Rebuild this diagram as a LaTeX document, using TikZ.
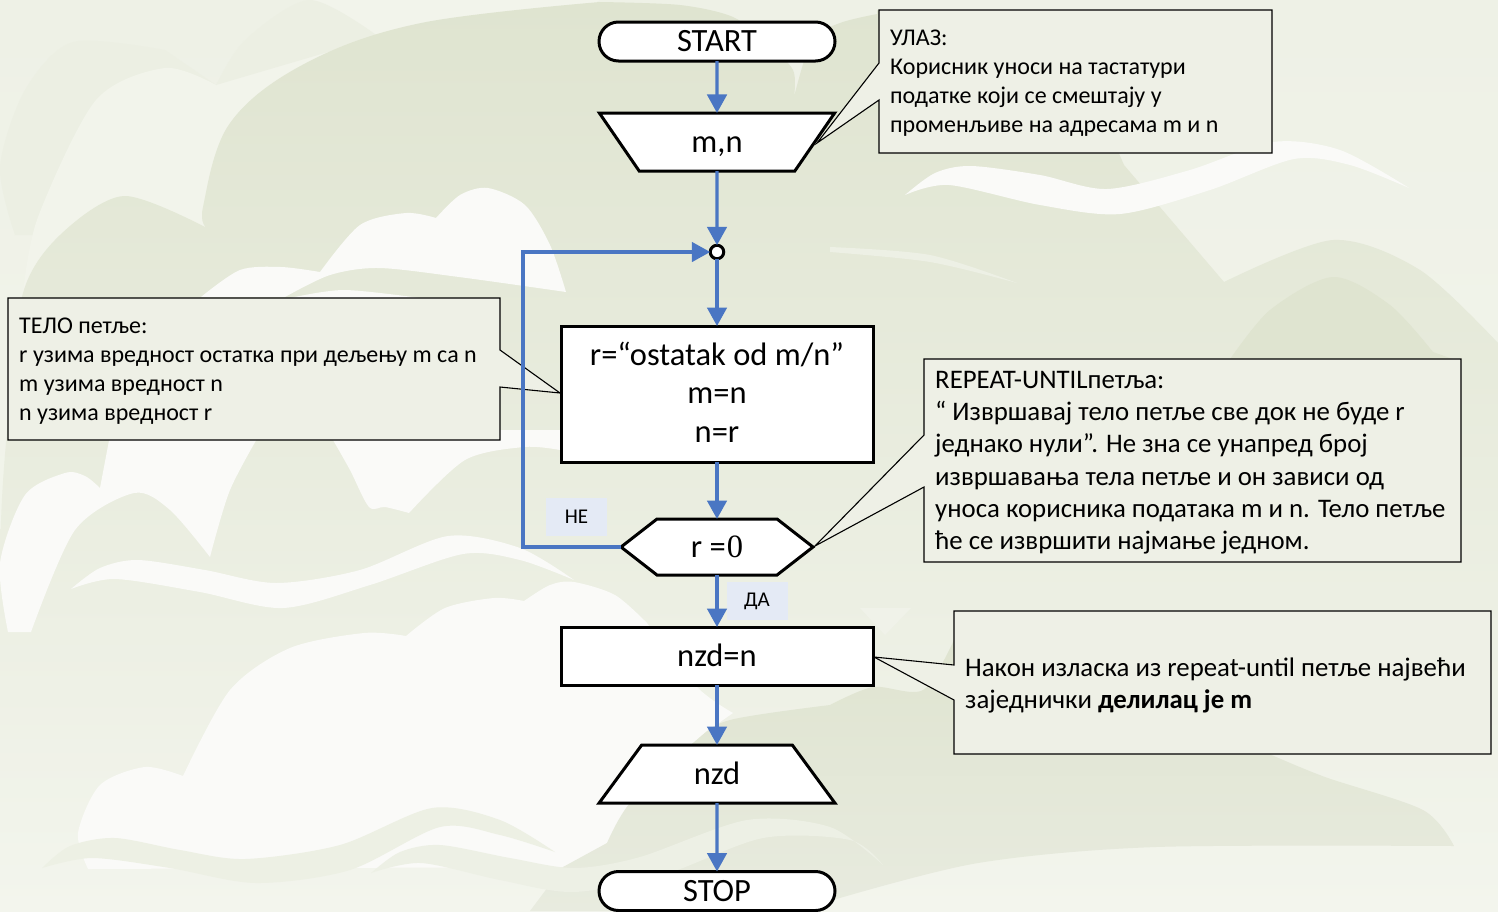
\documentclass[tikz,border=0pt]{standalone}
\usepackage{fontspec}
\setmainfont{Carlito}
\newfontfamily\timesf{Liberation Serif}
\usetikzlibrary{arrows.meta,shapes.geometric,shapes.symbols,shapes.misc}
\definecolor{bgwhite}{HTML}{FAFAF8}
\definecolor{flowblue}{HTML}{4A76C3}
\definecolor{notefill}{HTML}{EEF0E6}
\definecolor{tagfill}{HTML}{E4EAF5}
\definecolor{EDF0E5}{HTML}{EEF1E6}
\definecolor{F3F5ED}{HTML}{F4F6EE}
\definecolor{EBEEE2}{HTML}{ECEFE3}
\definecolor{F1F3EA}{HTML}{F2F4EB}
\definecolor{DDE2CE}{HTML}{DFE4D0}
\definecolor{E9ECDF}{HTML}{EBEEE2}
\definecolor{F2F4EC}{HTML}{F3F5ED}
\definecolor{DEE3CF}{HTML}{DFE4D0}
\definecolor{EAEDE1}{HTML}{EDF0E5}
\definecolor{E7EADD}{HTML}{E8EBDF}
\definecolor{EEF0E7}{HTML}{F0F2E9}
\definecolor{ECEFE3}{HTML}{EDF0E4}
\definecolor{ECEFE4}{HTML}{EDF0E5}
\tikzset{
  x=1pt,y=-1pt,
  shapebox/.style={draw=black,fill=white,line width=3pt,inner sep=0pt,outer sep=0pt,font=\fontsize{32.5}{38.5}\selectfont,align=center},
  oneline/.style={text height=20pt,text depth=0pt},
  termbox/.style={shapebox,oneline,rounded rectangle,minimum width=236,minimum height=39},
  procbox/.style={shapebox,rectangle,minimum width=312},
  iobox/.style={shapebox,oneline,trapezium,trapezium stretches=true,trapezium left angle=56.8,trapezium right angle=56.8,minimum width=236,minimum height=58},
  decbox/.style={shapebox,oneline,signal,signal to=east and west,signal pointer angle=75.8,minimum width=192,minimum height=56},
  joint/.style={circle,draw=black,fill=white,line width=3pt,minimum size=13.5,inner sep=0pt,outer sep=0pt},
  flow/.style={draw=flowblue,line width=3.3pt,-{Triangle[length=18.5pt,width=19.5pt]}},
  notebox/.style={draw=black,fill=notefill,line width=1.1pt,line join=miter},
  notetext/.style={anchor=north west,inner sep=0pt,align=left,font=\fontsize{24}{29}\selectfont},
  notetextb/.style={anchor=north west,inner sep=0pt,align=left,font=\fontsize{26.8}{32.2}\selectfont},
  tag/.style={fill=tagfill,inner sep=0pt,minimum width=61,minimum height=38,font=\fontsize{21}{25}\selectfont},
  cloud/.style={fill=bgwhite},
}
\begin{document}
\begin{tikzpicture}
\useasboundingbox (0,0) rectangle (1498,911);
% background
\shade[top color=EDF0E5,bottom color=F3F5ED] (0,0) rectangle (1498,911);
\fill[EBEEE2] plot[smooth] coordinates {(15,235) (0,167) (25,90) (73,42) (165,50)} -- (216,85) -- (33,235) -- cycle;
\fill[F1F3EA] plot[smooth] coordinates {(23,293) (38,217) (96,100) (165,68) (216,85)} -- plot[smooth] coordinates {(216,85) (245,40) (310,0)} -- (600,0) -- (207,228) -- cycle;
\fill[EBEEE2] plot[smooth] coordinates {(216,85) (245,40) (310,0) (379,37)} -- cycle;
\shade[top color=DDE2CE,middle color=E9ECDF,bottom color=F2F4EC]
  plot[smooth,tension=.6] coordinates {(600,2) (421,23) (306,63) (230,123) (203,207) (207,228)}
  -- plot[smooth] coordinates {(207,228) (124,196) (60,235) (23,293) (8,420) (0,560) (0,911)}
  -- (1498,911) -- (1498,343)
  -- plot[smooth] coordinates {(1498,343) (1420,270) (1333,240) (1224,282)}
  -- (1124,165) -- (1100,110) -- (877,10)
  -- plot[smooth] coordinates {(877,14) (840,23) (812,40) (794,97)}
  -- plot[smooth] coordinates {(794,97) (793,70) (767,43) (733,17) (680,5) (600,2)} -- cycle;
\fill[DEE3CF] plot[smooth] coordinates {(1228,362) (1270,310) (1333,277) (1390,305) (1433,352)} -- (1461,362) -- cycle;
\fill[EAEDE1] plot[smooth] coordinates {(830,247) (930,255) (1017,283)} -- plot[smooth] coordinates {(1017,283) (930,262) (830,252)} -- cycle;
% white clouds
\fill[cloud] plot[smooth] coordinates {(201,297) (240,270) (281,267) (320,272)}
  -- plot[smooth] coordinates {(320,272) (360,225) (406,213) (436,218)}
  -- plot[smooth] coordinates {(436,218) (460,195) (488,188) (525,205) (550,245) (566,292)}
  -- plot[smooth] coordinates {(566,292) (459,277) (379,268) (330,275) (285,297)} -- cycle;
\fill[cloud] plot[smooth] coordinates {(290,298) (344,290) (420,298)} -- cycle;
\fill[cloud] (111,430) -- plot[smooth] coordinates {(100,488) (85,476) (65,473) (25,495) (0,563) (8,632)}
  -- (31,632) -- plot[smooth] coordinates {(31,632) (75,530) (134,493) (170,510) (210,557)}
  -- plot[smooth] coordinates {(210,557) (230,490) (262,430)} -- cycle;
\fill[cloud] (333,430) -- plot[smooth] coordinates {(333,440) (350,470) (369,507) (385,507) (409,513)}
  -- plot[smooth] coordinates {(409,513) (465,460) (524,447) (560,450)} -- (560,430) -- cycle;
\fill[cloud] plot[smooth] coordinates {(71,589) (100,568) (138,560) (205,570) (276,583) (360,570) (448,536) (520,548) (574,580)}
  -- plot[smooth] coordinates {(574,580) (520,560) (463,554) (370,585) (283,608) (200,592) (115,579) (71,589)} -- cycle;
\fill[cloud] plot[smooth] coordinates {(88,869) (78,833) (100,785) (145,767) (183,776)}
  -- plot[smooth] coordinates {(183,776) (230,690) (290,648) (364,633) (406,636)}
  -- plot[smooth] coordinates {(406,636) (445,608) (494,598) (524,601)}
  -- plot[smooth] coordinates {(524,601) (550,585) (574,582) (615,595) (647,623)}
  -- plot[smooth] coordinates {(647,623) (697,687) (733,713)}
  -- plot[smooth] coordinates {(733,713) (693,743) (630,803) (607,843) (563,867)} -- cycle;
% dark lower patch
\shade[top color=DEE3CF,bottom color=E7EADD] (530,911) -- (563,867) -- (607,843) -- plot[smooth] coordinates {(607,843) (630,803) (693,743) (730,720) (830,705)}
  -- plot[smooth] coordinates {(830,705) (873,687) (923,690) (954,640)} -- (1267,740)
  -- plot[smooth] coordinates {(1267,753) (1325,777) (1423,810) (1454,846)}
  -- plot[smooth] coordinates {(1454,846) (1156,847) (978,863) (833,900)} -- (800,911) -- cycle;
\fill[EEF0E7] (860,608) -- (911,608) -- (885,635) -- cycle;
\fill[ECEFE3] plot[smooth] coordinates {(42,868) (70,846) (115,838) (180,850) (245,859) (340,845) (432,808) (500,820) (555,852)}
  -- plot[smooth] coordinates {(555,852) (500,835) (440,827) (350,870) (256,883) (170,868) (92,858) (42,868)} -- cycle;
\fill[ECEFE4] plot[smooth] coordinates {(371,873) (400,852) (440,845) (510,858) (574,868) (640,857) (747,820) (830,827) (883,865)}
  -- plot[smooth] coordinates {(883,865) (850,840) (763,838) (663,875) (574,892) (500,880) (421,863) (371,873)} -- cycle;
\fill[cloud] plot[smooth] coordinates {(905,195) (935,173) (971,166) (1040,175) (1107,189) (1190,170) (1273,142) (1340,150) (1409,188)}
  -- plot[smooth] coordinates {(1409,188) (1350,165) (1294,159) (1210,190) (1120,214) (1040,205) (949,185) (905,195)} -- cycle;
% notes
\draw[notebox] (879,10) -- (1272,10) -- (1272,153) -- (879,153) -- (879,100) -- (817,143) -- (879,63) -- cycle;
\draw[notebox] (8,298) -- (500,298) -- (500,350) -- (560,393) -- (500,387) -- (500,440) -- (8,440) -- cycle;
\draw[notebox] (924,359) -- (1461,359) -- (1461,562) -- (924,562) -- (924,487) -- (815,546) -- (924,435) -- cycle;
\draw[notebox] (954,611) -- (1491,611) -- (1491,754) -- (954,754) -- (954,700) -- (874,657) -- (954,665) -- cycle;
\node[notetext] (note1) at (890,30) {УЛАЗ:\\Корисник уноси на тастатури\\податке који се смештају у\\променљиве на адресама m и n};
\node[notetext] (note2) at (19,318) {ТЕЛО петље:\\r узима вредност остатка при дељењу m са n\\m узима вредност n\\n узима вредност r};
\node[notetextb] (note3) at (935,371) {REPEAT-UNTILпетља:\\“ Извршавај тело петље све док не буде r\\једнако нули”. Не зна се унапред број\\извршавања тела петље и он зависи од\\уноса корисника података m и n. Тело петље\\ће се извршити најмање једном.};
\node[notetextb] (note4) at (965,657.5) {Након изласка из repeat-until петље највећи\\заједнички \textbf{делилац је m}};
% tags
\node[tag] (ne) at (576.5,517) {НЕ};
\node[tag] (da) at (757,601) {ДА};
% flow nodes
\node[termbox] (start) at (717,41.5) {START};
\node[iobox,shape border rotate=180] (input) at (717,142) {m,n};
\node[joint] (merge) at (717,252) {};
\node[procbox,minimum height=136,text depth=4pt] (body) at (717,394) {r=“ostatak od m/n”\\m=n\\n=r};
\node[decbox] (test) at (717,547) {r =\kern1pt{\timesf 0}};
\node[procbox,oneline,minimum height=58] (assign) at (717,656) {nzd=n};
\node[iobox] (output) at (717,774) {nzd};
\node[termbox] (stop) at (717,891) {STOP};
% connectors
\draw[flow] (start) -- (input);
\draw[flow] (input) -- (merge);
\draw[flow] (merge) -- (body);
\draw[flow] (body) -- (test);
\draw[flow] (test) -- (assign);
\draw[flow] (assign) -- (output);
\draw[flow] (output) -- (stop);
\coordinate (loopb) at (523,547);
\coordinate (loopt) at (523,252);
\draw[flow] (test.west) -- (loopb) -- (loopt) -- (merge);
\end{tikzpicture}
\end{document}
